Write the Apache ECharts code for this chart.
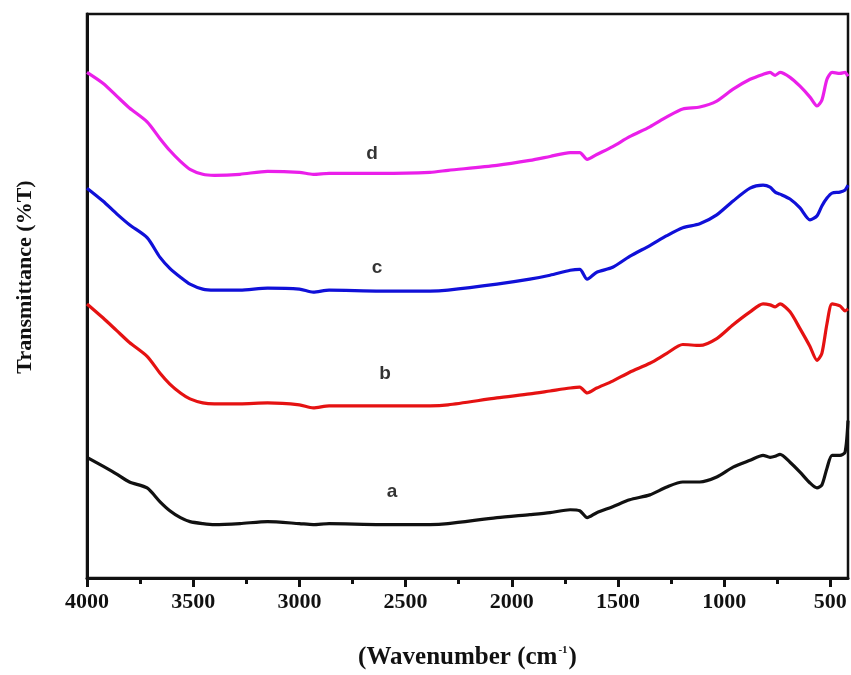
<!DOCTYPE html>
<html>
<head>
<meta charset="utf-8">
<script src="https://cdn.jsdelivr.net/npm/echarts@6/dist/echarts.min.js"></script>
<style>html,body{margin:0;padding:0;background:#fff}#c{width:851px;height:675px}</style>
</head>
<body>
<div id="c"></div>
<script>
// Wavenumber grid (cm-1)
var wavenumbers = [4000,3925,3860,3800,3717,3656,3610,3560,3515,3455,3400,3280,3150,3000,2935,2860,2620,2385,2300,2070,1915,1820,1725,1680,1645,1600,1525,1445,1350,1270,1195,1115,1035,958,878,817,784,760,737,690,643,596,563,540,516,492,455,431,417];
// Transmittance (arbitrary, offset) for each sample
var seriesA = [122,113,105,97,91,77,68,61,57,55,54,55,57,55,54,55,54,54,55,61,64,66,69,68,61,66,72,79,84,92,97,97,102,112,119,124,122,123,125,117,107,96,91,94,111,124,124,127,159];
var seriesB = [277,263,250,238,224,207,196,187,181,177,176,176,177,175,172,174,174,174,175,182,186,189,192,193,187,192,199,208,217,227,236,235,242,256,269,277,276,274,277,269,252,234,220,227,257,277,275,270,272];
var seriesC = [394,381,368,357,344,324,313,304,297,292,291,291,293,292,289,291,290,290,291,297,302,306,311,312,302,309,314,325,336,346,354,358,367,381,394,397,395,390,388,383,374,362,366,376,384,389,390,392,397];
var seriesD = [511,500,487,475,461,444,432,421,413,408,407,408,411,410,408,409,409,410,412,417,422,426,430,430,423,428,436,446,456,466,474,476,482,494,504,509,511,508,511,506,497,486,477,483,504,511,510,511,507];
var seriesNames = ['a','b','c','d'];
var seriesColors = ['#111111','#e51212','#1010d8','#ea1fea'];
// label anchor positions [wavenumber, value]
var labelPos = [[2564,87],[2597,206],[2634,314],[2658,429]];
var majorTicks = [4000,3500,3000,2500,2000,1500,1000,500];
var minorTicks = [3750,3250,2750,2250,1750,1250,750];

var all = [seriesA, seriesB, seriesC, seriesD];
function pairs(ys){ return wavenumbers.map(function(w,i){ return [w, ys[i]]; }); }

var series = all.map(function(ys, k){
  return {
    type:'line', name: seriesNames[k], data: pairs(ys), showSymbol:false, smooth:0.25,
    lineStyle:{color: seriesColors[k], width:3.2}, itemStyle:{color: seriesColors[k]},
    xAxisIndex:0, yAxisIndex:0, z: 3
  };
});
series.push({
  type:'scatter', silent:true, xAxisIndex:0, yAxisIndex:0, z:5,
  symbol:'circle', symbolSize:2, itemStyle:{color:'rgba(255,255,255,0)'},
  data: labelPos.map(function(p,k){ return {value:[p[0],p[1]], name: seriesNames[k]}; }),
  label:{show:true, position:'inside', formatter:function(p){return p.name;}, color:'#000',
    fontFamily:'Liberation Sans, Arial', fontWeight:'bold', fontSize:19}
});

var chart = echarts.init(document.getElementById('c'));
chart.setOption({
  animation:false,
  backgroundColor:'#fff',
  grid:{left:87, right:3, top:14, bottom:91, show:true, borderColor:'#111', borderWidth:2.5, backgroundColor:'transparent'},
  xAxis:[{
    type:'value', inverse:true, min:417, max:4000,
    axisLine:{show:true, onZero:false, lineStyle:{color:'#111', width:3}},
    axisTick:{show:true, inside:false, length:9, customValues: majorTicks, lineStyle:{color:'#111', width:3}},
    axisLabel:{show:true, customValues: majorTicks, formatter:function(v){return String(v);}, margin:13, color:'#111', fontFamily:'Liberation Serif, Times New Roman', fontWeight:'bold', fontSize:22},
    splitLine:{show:false},
    name:'(Wavenumber (cm{sup|-1})', nameLocation:'middle', nameGap:67,
    nameTextStyle:{color:'#111', fontFamily:'Liberation Serif, Times New Roman', fontWeight:'bold', fontSize:25,
      rich:{sup:{fontSize:11, verticalAlign:'top', padding:[0,1,12,1], fontFamily:'Liberation Serif', fontWeight:'bold', color:'#111'}}}
  },{
    type:'value', inverse:true, min:417, max:4000, position:'bottom',
    axisLine:{show:false},
    axisTick:{show:true, inside:false, length:6, customValues: minorTicks, lineStyle:{color:'#111', width:3}},
    axisLabel:{show:false}, splitLine:{show:false}
  }],
  yAxis:{
    type:'value', min:0, max:570,
    axisLine:{show:true, onZero:false, lineStyle:{color:'#111', width:3}},
    axisTick:{show:false}, axisLabel:{show:false}, splitLine:{show:false},
    name:'Transmittance (%T)', nameLocation:'middle', nameGap:51, nameRotate:90,
    nameTextStyle:{color:'#111', fontFamily:'Liberation Serif, Times New Roman', fontWeight:'bold', fontSize:22, padding:[0,0,0,38]}
  },
  series: series
});
</script>
</body>
</html>
